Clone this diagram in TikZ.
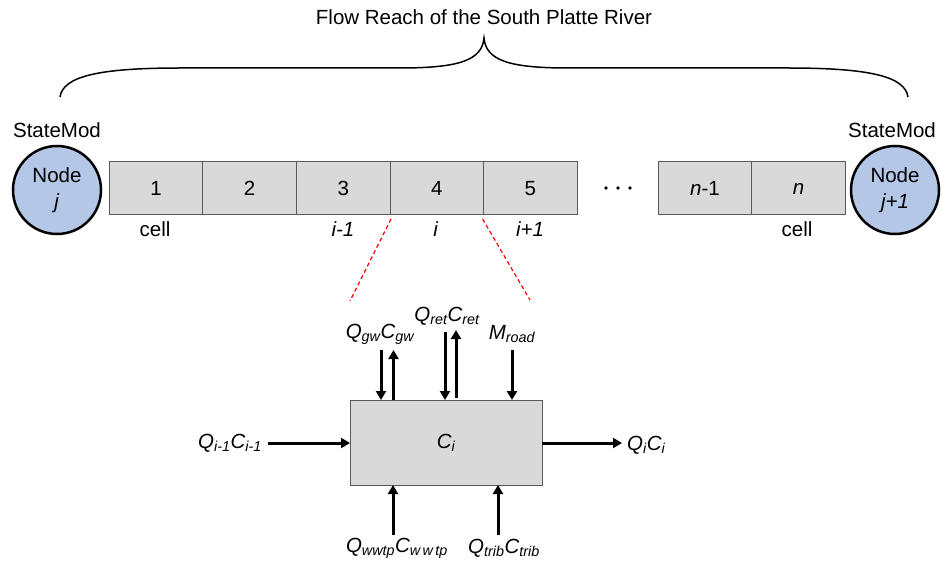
\documentclass[tikz,border=0pt]{standalone}
\usepackage{fontspec}
\setmainfont{Liberation Sans}
\usetikzlibrary{arrows.meta,calc}
\definecolor{cellgray}{HTML}{D9D9D9}
\definecolor{nodeblue}{HTML}{B4C7E7}
\definecolor{edgegray}{HTML}{595959}
\newcommand{\sub}[1]{\textsubscript{#1}}
\newcommand{\bigfont}{\fontsize{20.5}{26}\selectfont}
\tikzset{
  cellbox/.style={draw=edgegray, fill=cellgray, minimum width=93.6pt, minimum height=53pt, inner sep=0pt, outer sep=0pt, line width=1pt, font=\bigfont},
  smnode/.style={circle, draw=black, fill=nodeblue, line width=2.5pt, minimum size=88pt, inner sep=0pt, align=center, font=\bigfont},
  lab/.style={font=\bigfont, inner sep=1pt},
  arr/.style={line width=3pt, -{Triangle[length=9pt,width=10pt]}},
  reddash/.style={red, dashed, line width=1.2pt, dash pattern=on 4pt off 3pt},
}
\begin{document}
\begin{tikzpicture}[x=1pt,y=-1pt]
\useasboundingbox (0,0) rectangle (942,564);
% title and brace
\node[lab] (title) at (484,17) {Flow Reach of the South Platte River};
\draw[line width=1.5pt] (60,97) .. controls (63,76) and (100,68) .. (180,68) -- (400,68)
  .. controls (460,68) and (482,60) .. (484,38)
  .. controls (486,60) and (508,68) .. (568,68) -- (788,68)
  .. controls (868,68) and (905,76) .. (908,97);
% StateMod nodes
\node[smnode] (nj) at (57,190) {Node\\\textit{j}};
\node[smnode] (nj1) at (895,190) {Node\\\textit{j+1}};
\node[lab] (smL) at (57,130) {StateMod};
\node[lab] (smR) at (892,130) {StateMod};
% cells
\node[cellbox] (c1) at (156,188.5) {1};
\node[cellbox] (c2) at (249.6,188.5) {2};
\node[cellbox] (c3) at (343.2,188.5) {3};
\node[cellbox] (c4) at (436.8,188.5) {4};
\node[cellbox] (c5) at (530.4,188.5) {5};
\node[cellbox] (cn1) at (705,188.5) {\textit{n}-1};
\node[cellbox] (cn) at (798.6,188.5) {\textit{n}};
\fill (606,188) circle (1.8pt) (618,188) circle (1.8pt) (630,188) circle (1.8pt);
% cell labels
\node[lab] (cellL) at (155,229) {cell};
\node[lab] (lim1) at (343,229) {\textit{i-1}};
\node[lab] (li) at (436,229) {\textit{i}};
\node[lab] (lip1) at (530,229) {\textit{i+1}};
\node[lab] (cellR) at (797,229) {cell};
% red dashed lines
\coordinate (rl) at (350,301);
\coordinate (rr) at (530,300);
\draw[reddash] (c4.south west) ++(1,4) -- (rl);
\draw[reddash] (c5.south west) ++(-1,4) -- (rr);
% control volume box
\node[draw=edgegray, fill=cellgray, line width=1pt, minimum width=192pt, minimum height=85pt, inner sep=0pt, outer sep=0pt, font=\bigfont] (box) at (446,442.5) {\textit{C\sub{i}}};
% inflow / outflow
\node[lab, anchor=east] (qin) at (263,443) {\textit{Q\sub{i-1}C\sub{i-1}}};
\node[lab, anchor=west] (qout) at (626,445) {\textit{Q\sub{i}C\sub{i}}};
\coordinate (inS) at (268,443);
\draw[arr] (inS) -- (inS -| box.west);
\coordinate (outE) at (622,443);
\draw[arr] (outE -| box.east) -- (outE);
% top terms
\node[lab] (qgw) at (380,334) {\textit{Q\sub{gw}C\sub{gw}}};
\node[lab] (qret) at (447,316) {\textit{Q\sub{ret}C\sub{ret}}};
\node[lab] (mroad) at (512,334) {\textit{M\sub{road}}};
\coordinate (gwA) at (381,350);
\coordinate (gwB) at (393.5,350);
\coordinate (retA) at (445,332);
\coordinate (retB) at (456,330);
\coordinate (mA) at (512,350);
\draw[arr] (gwA) -- (gwA |- box.north);
\draw[arr] (gwB |- box.north) -- (gwB);
\draw[arr] (retA) -- (retA |- box.north);
\draw[arr] ($(retB |- box.north)+(0,-2)$) -- (retB);
\draw[arr] (mA) -- (mA |- box.north);
% bottom terms
\node[lab] (qww) at (397,548) {\textit{Q\sub{wwtp}C\sub{w\,w\,tp}}};
\node[lab] (qtrib) at (504,548) {\textit{Q\sub{trib}C\sub{trib}}};
\coordinate (wwA) at (393,535);
\coordinate (trA) at (498,535);
\draw[arr] (wwA) -- (wwA |- box.south);
\draw[arr] (trA) -- (trA |- box.south);
\end{tikzpicture}
\end{document}
